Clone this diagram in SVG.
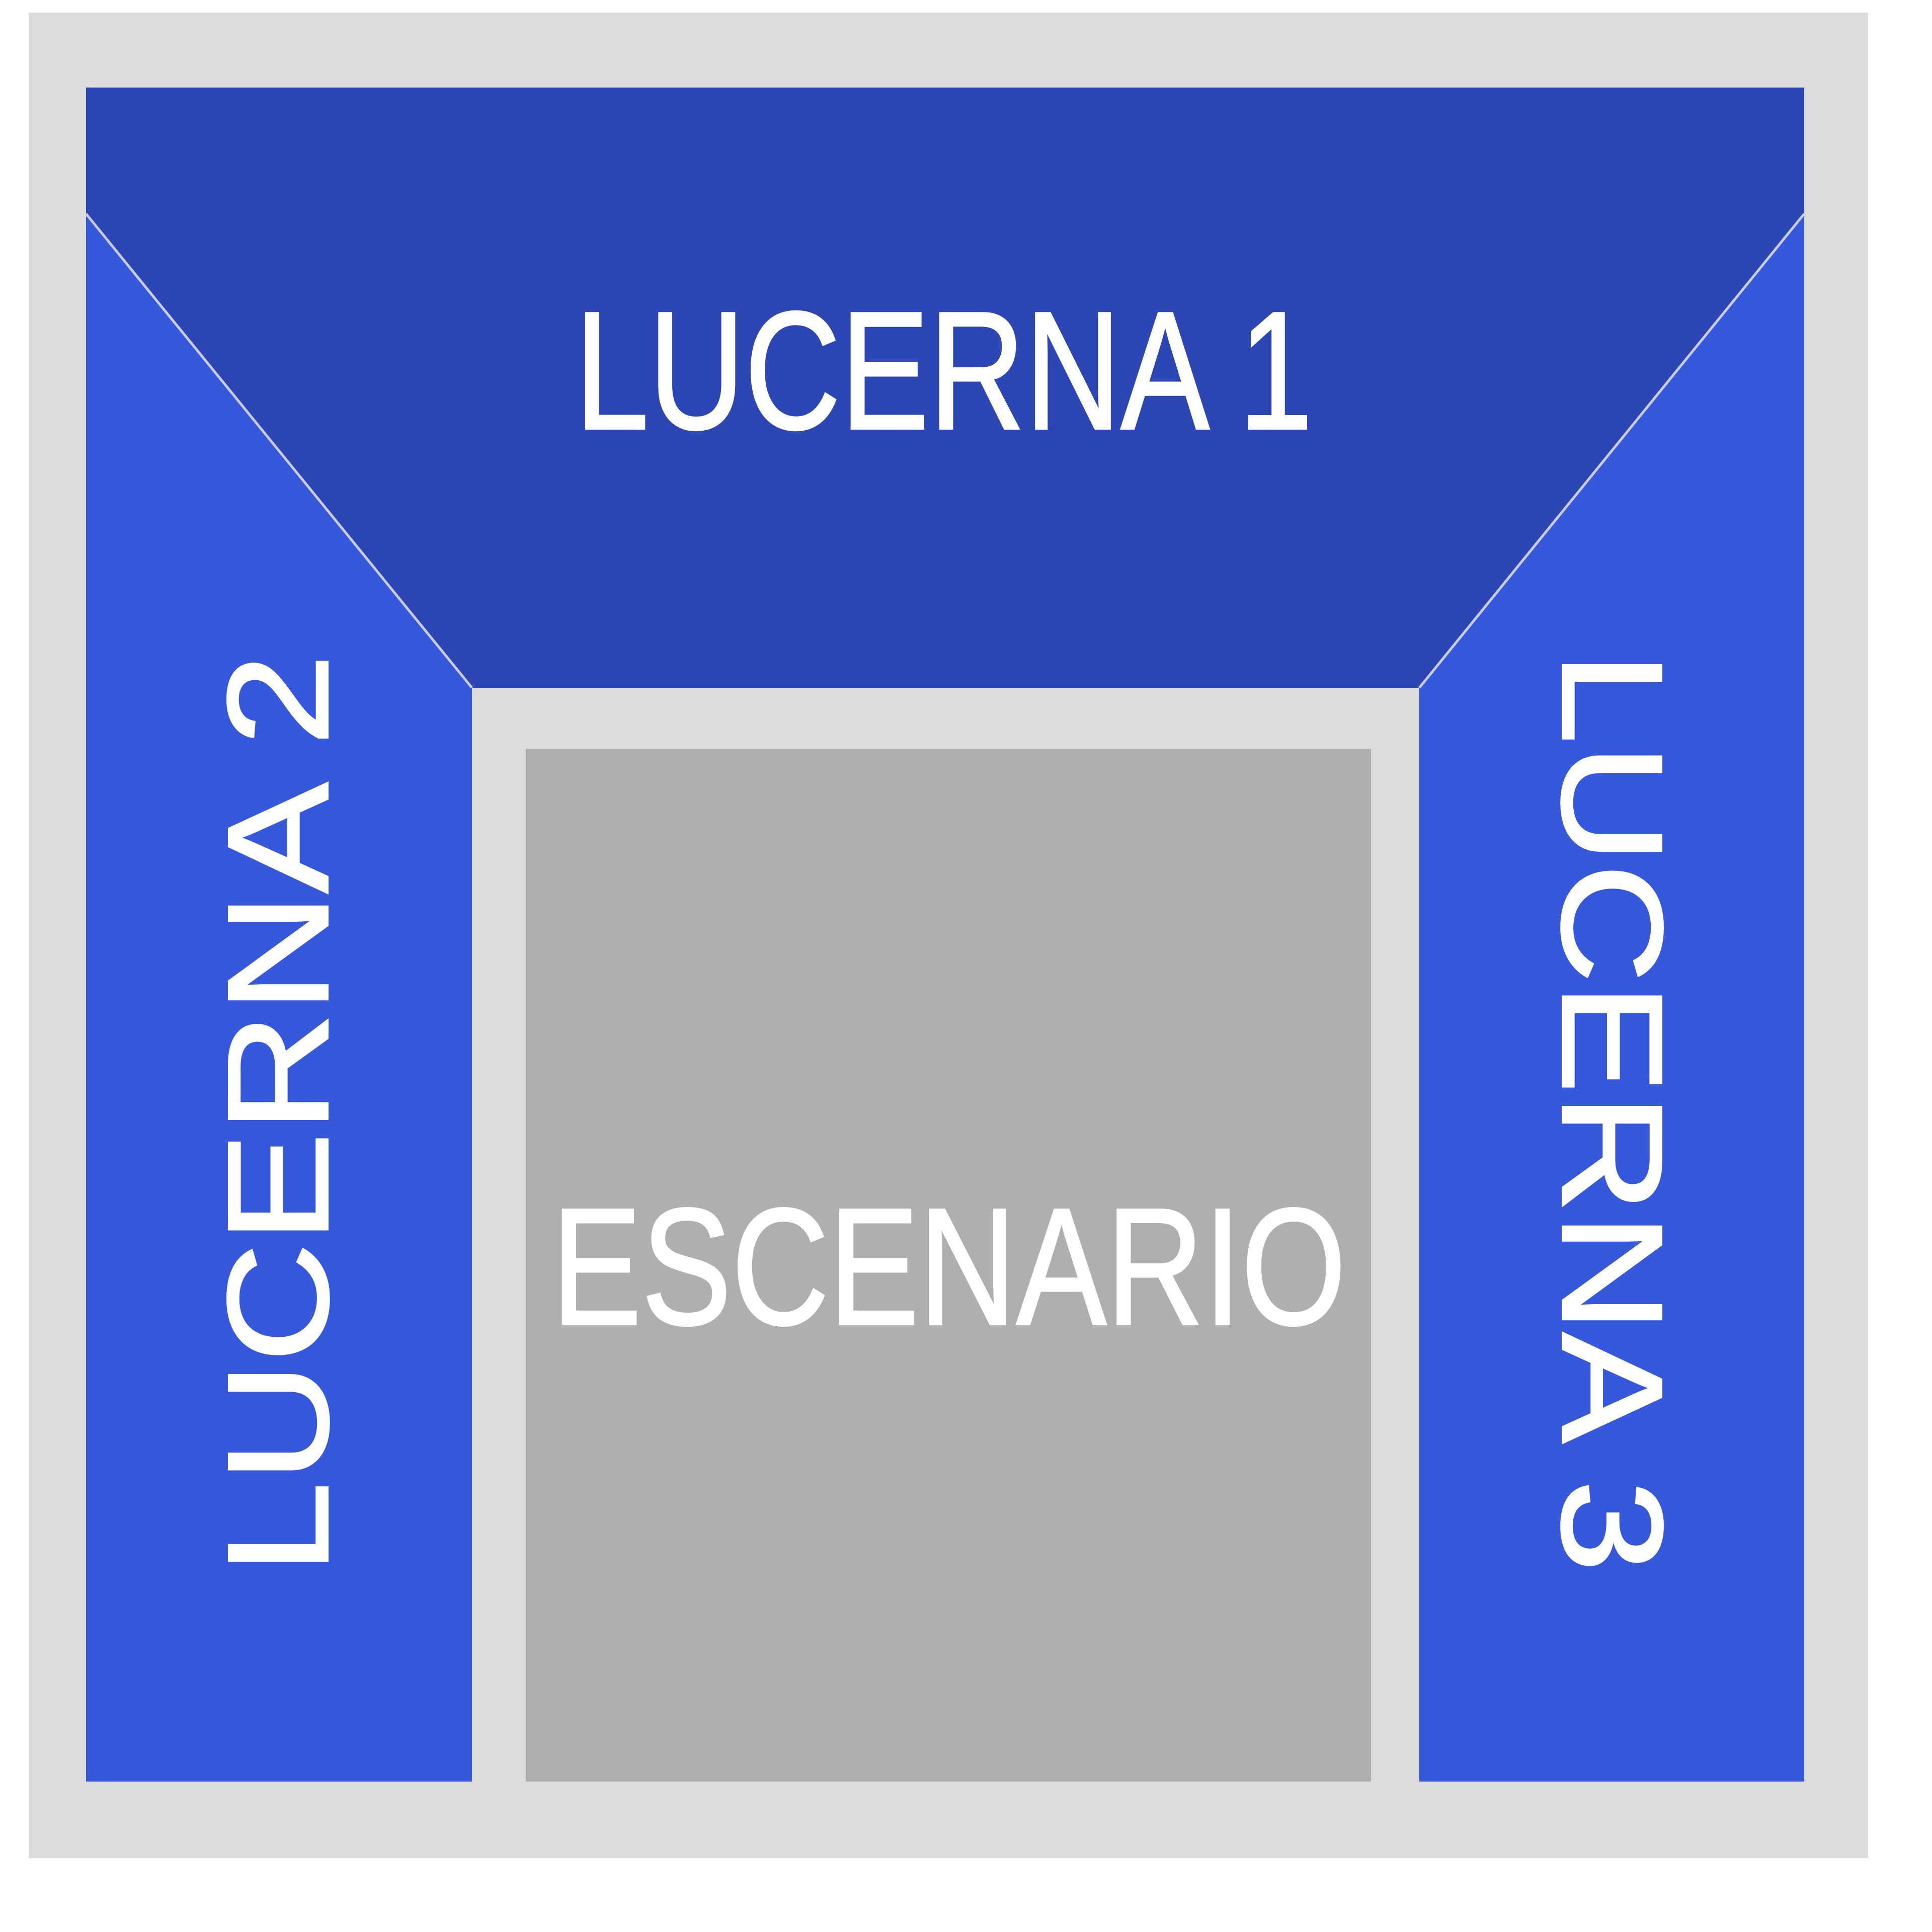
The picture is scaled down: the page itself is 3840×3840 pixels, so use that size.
<svg xmlns="http://www.w3.org/2000/svg" width="3840" height="3840" viewBox="0 0 3840 3840">
<style>
.lbl{font-family:"Liberation Sans",Arial,sans-serif;fill:#ffffff;stroke:#ffffff;stroke-width:4;text-anchor:middle}
.side{fill:#3658DB}
.top{fill:#2C46B4}
.edge{stroke:#C9CDEA;stroke-width:5;fill:none}
</style>
<rect x="0" y="0" width="3840" height="3840" fill="#ffffff"/>
<rect id="frame" x="57" y="25" width="3656" height="3668" fill="#DCDCDC"/>
<g id="lucerna2">
<polygon class="side" points="171,425 938,1367 938,3541 171,3541"/>
<text class="lbl" font-size="285" transform="translate(651,2214) rotate(-90) scale(1.155,1)" x="0" y="0">LUCERNA 2</text>
</g>
<g id="lucerna3">
<polygon class="side" points="3586,425 2821,1367 2821,3541 3586,3541"/>
<text class="lbl" font-size="285" transform="translate(3106,2210) rotate(90) scale(1.155,1)" x="0" y="0">LUCERNA 3</text>
</g>
<g id="lucerna1">
<polygon class="top" points="171,174 3586,174 3586,425 2821,1367 938,1367 171,425"/>
<text class="lbl" font-size="334" transform="translate(1876,852) scale(0.79,1)" x="0" y="0">LUCERNA 1</text>
</g>
<g id="edges">
<line class="edge" x1="171" y1="425" x2="938" y2="1367"/>
<line class="edge" x1="3586" y1="425" x2="2821" y2="1367"/>
</g>
<g id="escenario">
<rect x="1045" y="1488" width="1680" height="2053" fill="#AFAFAF"/>
<text class="lbl" font-size="331" transform="translate(1886,2632) scale(0.81,1)" x="0" y="0">ESCENARIO</text>
</g>
</svg>
